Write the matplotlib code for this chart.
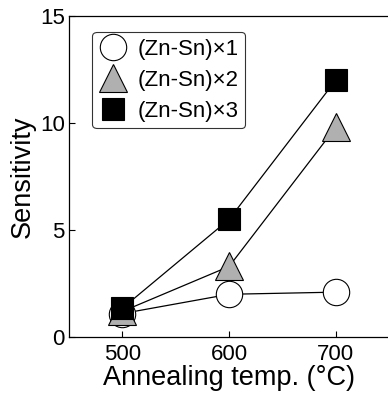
import matplotlib
matplotlib.use("Agg")
import matplotlib.pyplot as plt

temps = [500, 600, 700]
s_x1 = [1.1, 2.0, 2.1]
s_x2 = [1.2, 3.3, 9.8]
s_x3 = [1.35, 5.5, 12.0]
labels = ["(Zn-Sn)×1", "(Zn-Sn)×2", "(Zn-Sn)×3"]
xticks = [500, 600, 700]
yticks = [0, 5, 10, 15]

plt.rcParams['font.family'] = ['Liberation Sans', 'DejaVu Sans']

fig = plt.figure(figsize=(3.88, 3.98), dpi=100)
ax = fig.add_axes([0.178, 0.153, 0.825, 0.807])

ax.plot(temps, s_x1, '-', color='black', lw=0.9, marker='o', ms=19,
        mfc='white', mec='black', mew=0.8, label=labels[0], zorder=3)
ax.plot(temps, s_x2, '-', color='black', lw=0.9, marker='^', ms=20,
        mfc='#b0b0b0', mec='black', mew=0.8, label=labels[1], zorder=4)
ax.plot(temps, s_x3, '-', color='black', lw=0.9, marker='s', ms=16,
        mfc='black', mec='black', mew=0.8, label=labels[2], zorder=5)

ax.set_xlim(450, 750)
ax.set_ylim(0, 15)
ax.set_xticks(xticks)
ax.set_yticks(yticks)
ax.tick_params(direction='in', length=4, width=0.8, labelsize=16)
ax.tick_params(axis='x', pad=5)
ax.tick_params(axis='y', pad=3)
ax.spines['right'].set_visible(False)
for s in ['left', 'bottom', 'top']:
    ax.spines[s].set_linewidth(0.9)

ax.set_xlabel("Annealing temp. (°C)", fontsize=19.5, labelpad=0)
ax.set_ylabel("Sensitivity", fontsize=19.5, labelpad=3)

leg = ax.legend(loc='upper left', bbox_to_anchor=(0.072, 0.95), borderaxespad=0,
                fontsize=16, frameon=True, fancybox=True, edgecolor='black',
                handlelength=1.3, handletextpad=0.45, labelspacing=0.45,
                borderpad=0.3, markerscale=1.0)
leg.get_frame().set_linewidth(0.8)
for h in leg.get_lines():
    h.set_linestyle('None')

fig.savefig("out.png", dpi=100)
